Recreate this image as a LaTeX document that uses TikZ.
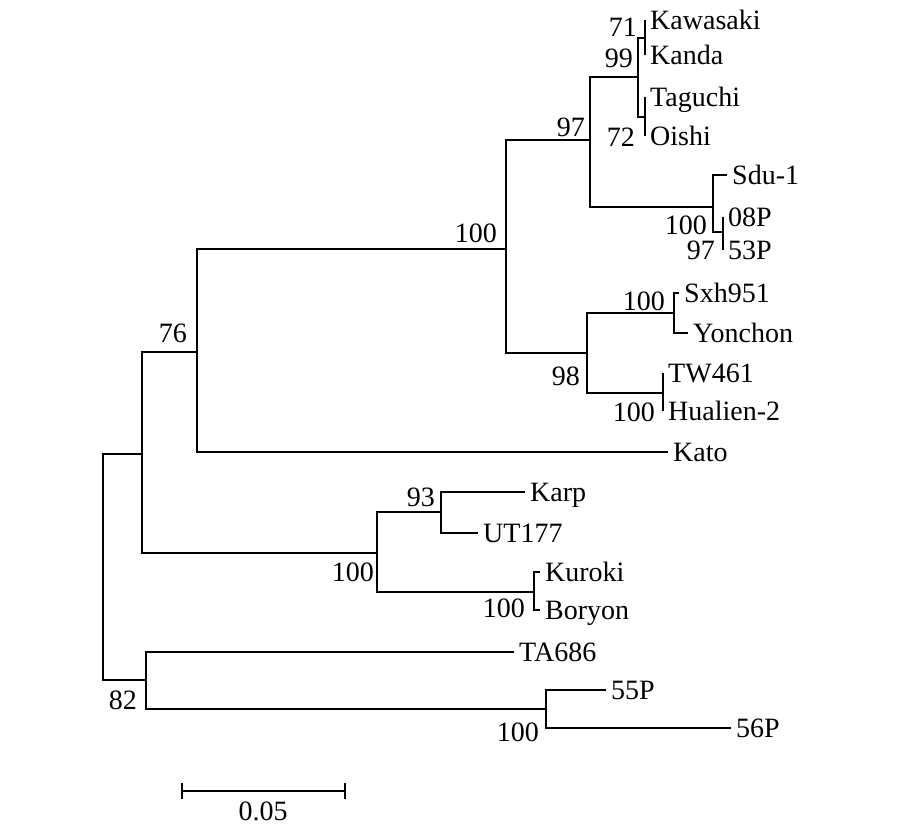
\documentclass[tikz,border=0pt]{standalone}
\usepackage{fontspec}
\setmainfont{Liberation Serif}
\newcommand{\treefont}{\fontsize{28}{30}\selectfont}
\begin{document}
\begin{tikzpicture}[x=1pt,y=-1pt,
  br/.style={line width=2.6pt, line join=miter},
  leaf/.style={anchor=west, inner sep=0pt, xshift=5pt, text height=18.5pt, text depth=0pt, font=\treefont},
  boot/.style={anchor=east, inner sep=0pt, text height=18.5pt, text depth=0pt, font=\treefont}]
\useasboundingbox (0,0) rectangle (920,833);
% internal nodes
\coordinate (R) at (103,567);
\coordinate (A) at (142,454);
\coordinate (n76) at (197,352);
\coordinate (nTop) at (506,249);
\coordinate (n97) at (590,140);
\coordinate (n99) at (638,77);
\coordinate (n71) at (645,38);
\coordinate (n72) at (645,117);
\coordinate (nSdu) at (713,207);
\coordinate (n97b) at (723,232);
\coordinate (n98) at (587,353);
\coordinate (nSxh) at (674,313);
\coordinate (nTW) at (663,393);
\coordinate (nKarp) at (377,553);
\coordinate (n93) at (441,512);
\coordinate (nKur) at (534,592);
\coordinate (n82) at (146,680);
\coordinate (n55) at (546,709);
% leaf ends
\coordinate (tKaw) at (645,20);
\coordinate (tKan) at (645,55);
\coordinate (tTag) at (645,97);
\coordinate (tOis) at (645,136);
\coordinate (tSdu) at (727,175);
\coordinate (t08) at (723,217);
\coordinate (t53) at (723,250);
\coordinate (tSxh) at (679,293);
\coordinate (tYon) at (688,333);
\coordinate (tTW) at (663,373);
\coordinate (tHua) at (663,411);
\coordinate (tKato) at (668,452);
\coordinate (tKarp) at (525,492);
\coordinate (tUT) at (478,533);
\coordinate (tKur) at (540,572);
\coordinate (tBor) at (540,610);
\coordinate (tTA) at (514,652);
\coordinate (t55) at (606,690);
\coordinate (t56) at (731,728);
% branches
\draw[br] (R) |- (A); \draw[br] (R) |- (n82);
\draw[br] (A) |- (n76); \draw[br] (A) |- (nKarp);
\draw[br] (n76) |- (nTop); \draw[br] (n76) |- (tKato);
\draw[br] (nTop) |- (n97); \draw[br] (nTop) |- (n98);
\draw[br] (n97) |- (n99); \draw[br] (n97) |- (nSdu);
\draw[br] (n99) |- (n71); \draw[br] (n99) |- (n72);
\draw[br] (n71) |- (tKaw); \draw[br] (n71) |- (tKan);
\draw[br] (n72) |- (tTag); \draw[br] (n72) |- (tOis);
\draw[br] (nSdu) |- (tSdu); \draw[br] (nSdu) |- (n97b);
\draw[br] (n97b) |- (t08); \draw[br] (n97b) |- (t53);
\draw[br] (n98) |- (nSxh); \draw[br] (n98) |- (nTW);
\draw[br] (nSxh) |- (tSxh); \draw[br] (nSxh) |- (tYon);
\draw[br] (nTW) |- (tTW); \draw[br] (nTW) |- (tHua);
\draw[br] (nKarp) |- (n93); \draw[br] (nKarp) |- (nKur);
\draw[br] (n93) |- (tKarp); \draw[br] (n93) |- (tUT);
\draw[br] (nKur) |- (tKur); \draw[br] (nKur) |- (tBor);
\draw[br] (n82) |- (tTA); \draw[br] (n82) |- (n55);
\draw[br] (n55) |- (t55); \draw[br] (n55) |- (t56);
% leaf labels
\node[leaf] (lKaw) at (tKaw) {Kawasaki};
\node[leaf] (lKan) at (tKan) {Kanda};
\node[leaf] (lTag) at (tTag) {Taguchi};
\node[leaf] (lOis) at (tOis) {Oishi};
\node[leaf] (lSdu) at (tSdu) {Sdu-1};
\node[leaf] (l08) at (t08) {08P};
\node[leaf] (l53) at (t53) {53P};
\node[leaf] (lSxh) at (tSxh) {Sxh951};
\node[leaf] (lYon) at (tYon) {Yonchon};
\node[leaf] (lTW) at (tTW) {TW461};
\node[leaf] (lHua) at (tHua) {Hualien-2};
\node[leaf] (lKato) at (tKato) {Kato};
\node[leaf] (lKarp) at (tKarp) {Karp};
\node[leaf] (lUT) at (tUT) {UT177};
\node[leaf] (lKur) at (tKur) {Kuroki};
\node[leaf] (lBor) at (tBor) {Boryon};
\node[leaf] (lTA) at (tTA) {TA686};
\node[leaf] (l55) at (t55) {55P};
\node[leaf] (l56) at (t56) {56P};
% bootstrap values
\node[boot] (b71) at (637,27) {71};
\node[boot] (b99) at (633,58) {99};
\node[boot] (b72) at (635,137) {72};
\node[boot] (b97) at (585,127) {97};
\node[boot] (b100a) at (497,233) {100};
\node[boot] (b76) at (187,333) {76};
\node[boot] (b100b) at (707,225) {100};
\node[boot] (b97b) at (715,250) {97};
\node[boot] (b100c) at (665,301) {100};
\node[boot] (b98) at (580,376) {98};
\node[boot] (b100d) at (655,412) {100};
\node[boot] (b93) at (435,497) {93};
\node[boot] (b100e) at (374,572) {100};
\node[boot] (b100f) at (525,608) {100};
\node[boot] (b82) at (137,700) {82};
\node[boot] (b100g) at (539,732) {100};
% scale bar
\coordinate (sbL) at (182,791);
\coordinate (sbR) at (345,791);
\draw[br] (sbL) -- (sbR);
\draw[br] ([yshift=-8pt]sbL) -- ([yshift=8pt]sbL);
\draw[br] ([yshift=-8pt]sbR) -- ([yshift=8pt]sbR);
\node[font=\treefont, inner sep=0pt, text height=18.5pt, text depth=0pt] (sbl) at (263,811) {0.05};
\end{tikzpicture}
\end{document}
